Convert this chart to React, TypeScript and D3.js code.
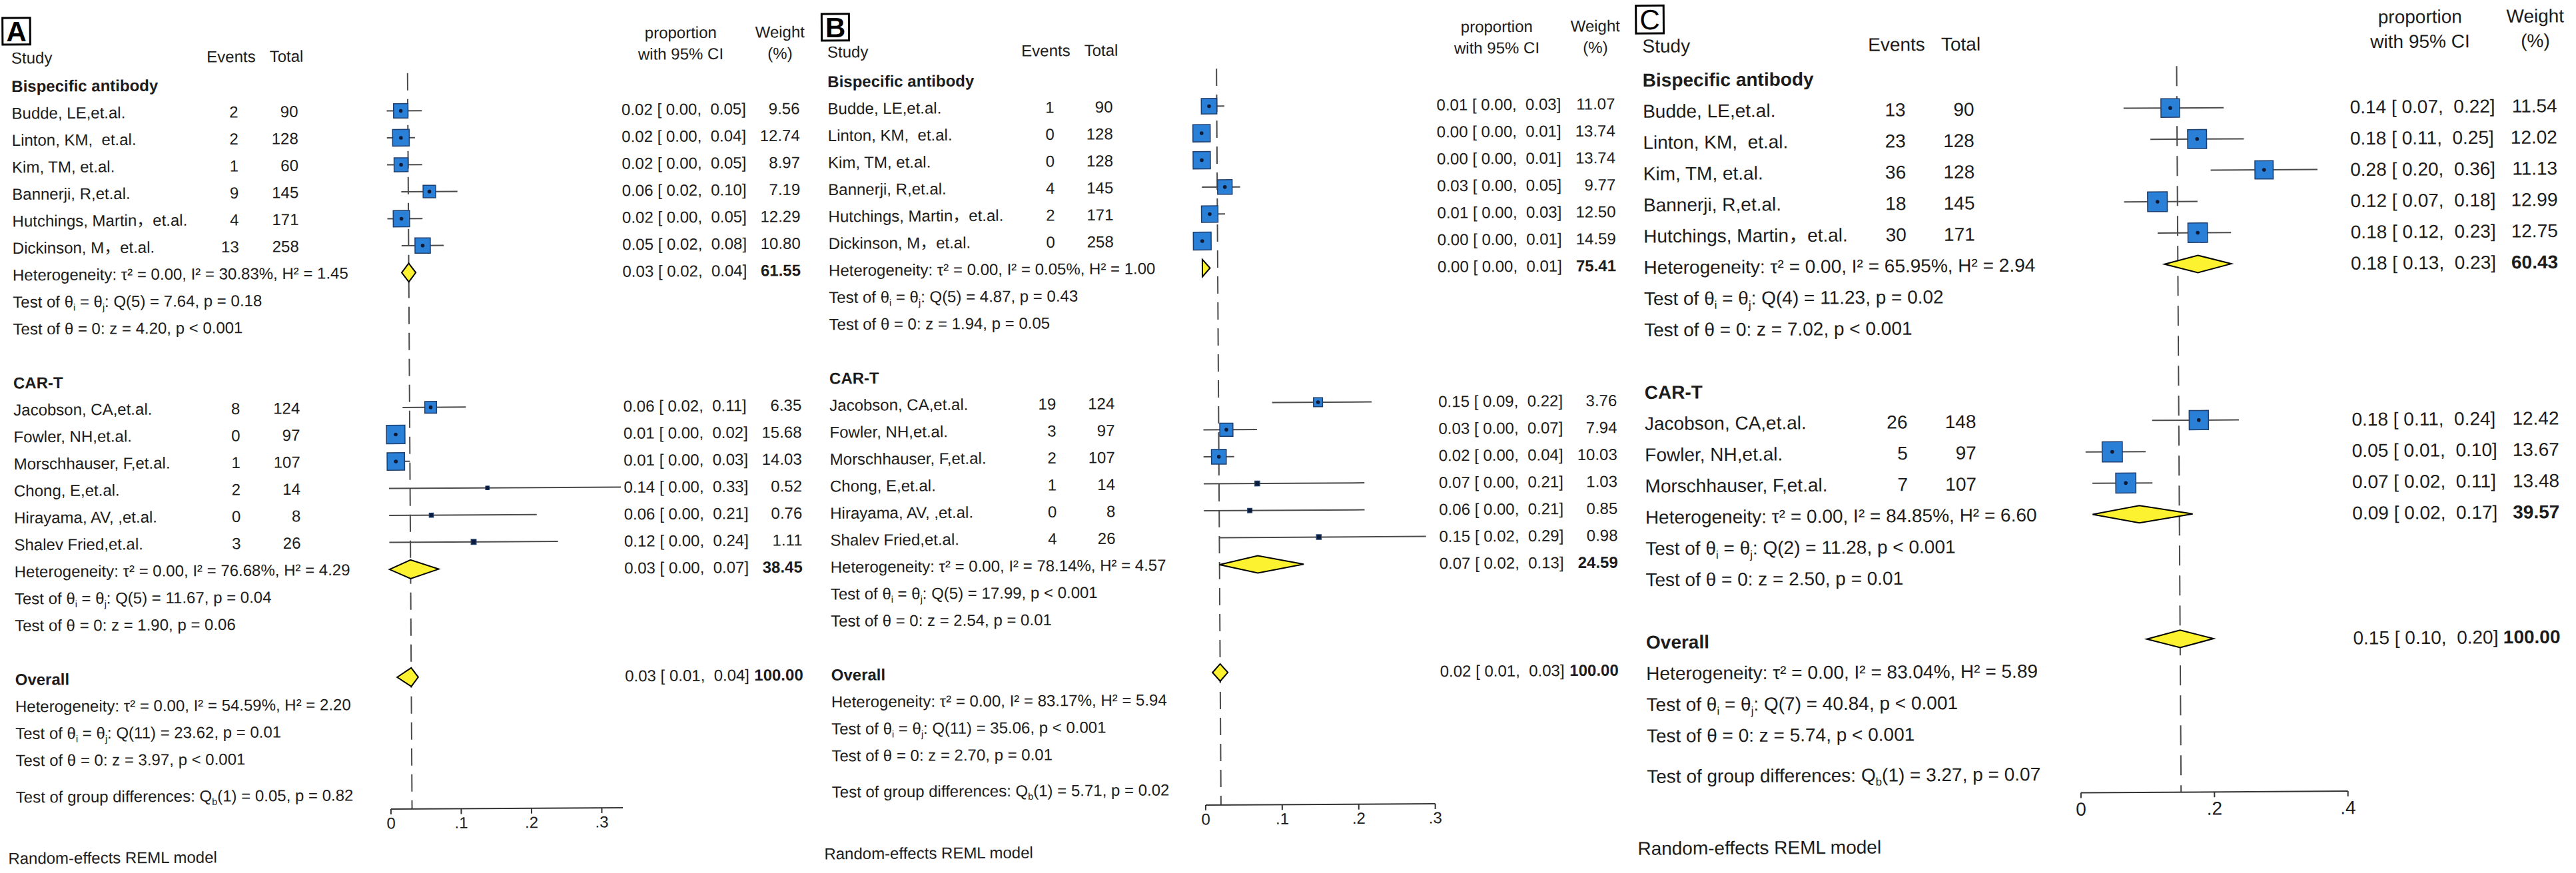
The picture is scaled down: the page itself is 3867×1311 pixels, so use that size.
import React from "react";
import * as d3 from "d3";

const FONT = '"Liberation Sans", Arial, Helvetica, "Noto Sans CJK SC", sans-serif';
const TEXT = "#1c1c1c";
const BLUE = "#2a7fd6";
const BLUE_EDGE = "#1f3f6e";
const DOT = "#0e1a36";
const YELLOW = "#fcf230";
const LINE = "#4a4a4a";
const ROT = -0.35;

// ---------------- Panel A ----------------
const namesA1 = ["Budde, LE,et.al.", "Linton, KM,  et.al.", "Kim, TM, et.al.", "Bannerji, R,et.al.", "Hutchings, Martin，et.al.", "Dickinson, M，et.al."];
const eventsA1 = [2, 2, 1, 9, 4, 13];
const totalsA1 = [90, 128, 60, 145, 171, 258];
const estA1 = [0.02, 0.02, 0.02, 0.06, 0.02, 0.05];
const loA1 = [0.0, 0.0, 0.0, 0.02, 0.0, 0.02];
const hiA1 = [0.05, 0.04, 0.05, 0.1, 0.05, 0.08];
const wA1 = [9.56, 12.74, 8.97, 7.19, 12.29, 10.8];

const namesA2 = ["Jacobson, CA,et.al.", "Fowler, NH,et.al.", "Morschhauser, F,et.al.", "Chong, E,et.al.", "Hirayama, AV, ,et.al.", "Shalev Fried,et.al."];
const eventsA2 = [8, 0, 1, 2, 0, 3];
const totalsA2 = [124, 97, 107, 14, 8, 26];
const estA2 = [0.06, 0.01, 0.01, 0.14, 0.06, 0.12];
const loA2 = [0.02, 0.0, 0.0, 0.0, 0.0, 0.0];
const hiA2 = [0.11, 0.02, 0.03, 0.33, 0.21, 0.24];
const wA2 = [6.35, 15.68, 14.03, 0.52, 0.76, 1.11];

// summaries: [Bispecific antibody, CAR-T, Overall]
const sumEstA = [0.03, 0.03, 0.03];
const sumLoA = [0.02, 0.0, 0.01];
const sumHiA = [0.04, 0.07, 0.04];
const sumWA = [61.55, 38.45, 100.0];
const tau2A = [0.0, 0.0, 0.0];
const i2A = [30.83, 76.68, 54.59];
const h2A = [1.45, 4.29, 2.2];
const qDfA = [5, 5, 11];
const qA = [7.64, 11.67, 23.62];
const qPA = ["p = 0.18", "p = 0.04", "p = 0.01"];
const zA = [4.2, 1.9, 3.97];
const zPA = ["p < 0.001", "p = 0.06", "p < 0.001"];
const qbA = 0.05;
const qbPA = "p = 0.82";
const ticksA = [0, 0.1, 0.2, 0.3];

// ---------------- Panel B ----------------
const namesB1 = namesA1;
const eventsB1 = [1, 0, 0, 4, 2, 0];
const totalsB1 = [90, 128, 128, 145, 171, 258];
const estB1 = [0.01, 0.0, 0.0, 0.03, 0.01, 0.0];
const loB1 = [0.0, 0.0, 0.0, 0.0, 0.0, 0.0];
const hiB1 = [0.03, 0.01, 0.01, 0.05, 0.03, 0.01];
const wB1 = [11.07, 13.74, 13.74, 9.77, 12.5, 14.59];

const namesB2 = namesA2;
const eventsB2 = [19, 3, 2, 1, 0, 4];
const totalsB2 = [124, 97, 107, 14, 8, 26];
const estB2 = [0.15, 0.03, 0.02, 0.07, 0.06, 0.15];
const loB2 = [0.09, 0.0, 0.0, 0.0, 0.0, 0.02];
const hiB2 = [0.22, 0.07, 0.04, 0.21, 0.21, 0.29];
const wB2 = [3.76, 7.94, 10.03, 1.03, 0.85, 0.98];

const sumEstB = [0.0, 0.07, 0.02];
const sumLoB = [0.0, 0.02, 0.01];
const sumHiB = [0.01, 0.13, 0.03];
const sumWB = [75.41, 24.59, 100.0];
const tau2B = [0.0, 0.0, 0.0];
const i2B = [0.05, 78.14, 83.17];
const h2B = [1.0, 4.57, 5.94];
const qDfB = [5, 5, 11];
const qB = [4.87, 17.99, 35.06];
const qPB = ["p = 0.43", "p < 0.001", "p < 0.001"];
const zB = [1.94, 2.54, 2.7];
const zPB = ["p = 0.05", "p = 0.01", "p = 0.01"];
const qbB = 5.71;
const qbPB = "p = 0.02";
const ticksB = [0, 0.1, 0.2, 0.3];

// ---------------- Panel C ----------------
const namesC1 = ["Budde, LE,et.al.", "Linton, KM,  et.al.", "Kim, TM, et.al.", "Bannerji, R,et.al.", "Hutchings, Martin，et.al."];
const eventsC1 = [13, 23, 36, 18, 30];
const totalsC1 = [90, 128, 128, 145, 171];
const estC1 = [0.14, 0.18, 0.28, 0.12, 0.18];
const loC1 = [0.07, 0.11, 0.2, 0.07, 0.12];
const hiC1 = [0.22, 0.25, 0.36, 0.18, 0.23];
const wC1 = [11.54, 12.02, 11.13, 12.99, 12.75];

const namesC2 = ["Jacobson, CA,et.al.", "Fowler, NH,et.al.", "Morschhauser, F,et.al."];
const eventsC2 = [26, 5, 7];
const totalsC2 = [148, 97, 107];
const estC2 = [0.18, 0.05, 0.07];
const loC2 = [0.11, 0.01, 0.02];
const hiC2 = [0.24, 0.1, 0.11];
const wC2 = [12.42, 13.67, 13.48];

const sumEstC = [0.18, 0.09, 0.15];
const sumLoC = [0.13, 0.02, 0.1];
const sumHiC = [0.23, 0.17, 0.2];
const sumWC = [60.43, 39.57, 100.0];
const tau2C = [0.0, 0.0, 0.0];
const i2C = [65.95, 84.85, 83.04];
const h2C = [2.94, 6.6, 5.89];
const qDfC = [4, 2, 7];
const qC = [11.23, 11.28, 40.84];
const qPC = ["p = 0.02", "p < 0.001", "p < 0.001"];
const zC = [7.02, 2.5, 5.74];
const zPC = ["p < 0.001", "p = 0.01", "p < 0.001"];
const qbC = 3.27;
const qbPC = "p = 0.07";
const ticksC = [0, 0.2, 0.4];

const groupTitles = ["Bispecific antibody", "CAR-T"];

type Layout = {
  letter: string; letterBold: boolean; box: number[]; fs: number; studyX: number;
  eventsRight: number; totalsRight: number; eventsHdr: number; totalsHdr: number;
  x0: number; ppu: number; axisMax: number; ticks: number[];
  ciX: number; propHdr: number; weightRight: number; weightHdr: number;
  headerY: number; propLine1: number; y0: number; step: number;
  axisY: number; tickLabelY: number; modelX: number; modelY: number;
  k: number; diamondH: number; groupExtra: number; dash: string;
};

type GroupData = { title: string; names: string[]; events: number[]; totals: number[]; est: number[]; lo: number[]; hi: number[]; w: number[] };
type PanelData = {
  groups: GroupData[]; sumEst: number[]; sumLo: number[]; sumHi: number[]; sumW: number[];
  tau2: number[]; i2: number[]; h2: number[]; qDf: number[]; q: number[]; qP: string[];
  z: number[]; zP: string[]; qb: number; qbP: string;
};

const layoutA: Layout = {
  letter: "A", letterBold: true, box: [4, 27, 41.5, 40], fs: 24, studyX: 17,
  eventsRight: 357, totalsRight: 447, eventsHdr: 347, totalsHdr: 430,
  x0: 580, ppu: 1055, axisMax: 0.33, ticks: ticksA,
  ciX: 932.5, propHdr: 1022, weightRight: 1200, weightHdr: 1171,
  headerY: 87, propLine1: 55, y0: 170, step: 40.5,
  axisY: 1218.5, tickLabelY: 1239.5, modelX: 5, modelY: 1289,
  k: 7.0, diamondH: 14, groupExtra: 0.36, dash: "26 13",
};
const layoutB: Layout = {
  letter: "B", letterBold: true, box: [1233.7, 21, 41, 40], fs: 24, studyX: 1242,
  eventsRight: 1582, totalsRight: 1670, eventsHdr: 1570, totalsHdr: 1653,
  x0: 1803, ppu: 1149, axisMax: 0.3, ticks: ticksB,
  ciX: 2156, propHdr: 2247, weightRight: 2424, weightHdr: 2395,
  headerY: 78, propLine1: 46, y0: 163, step: 40.5,
  axisY: 1212.5, tickLabelY: 1233.5, modelX: 1230, modelY: 1282,
  k: 7.0, diamondH: 13, groupExtra: 0.34, dash: "26 13",
};
const layoutC: Layout = {
  letter: "C", letterBold: false, box: [2456, 8.4, 41.6, 41.8], fs: 28, studyX: 2465.5,
  eventsRight: 2860, totalsRight: 2963, eventsHdr: 2847, totalsHdr: 2943.5,
  x0: 3117, ppu: 1002, axisMax: 0.4, ticks: ticksC,
  ciX: 3527, propHdr: 3633, weightRight: 3838, weightHdr: 3806,
  headerY: 69, propLine1: 32, y0: 167, step: 46.9,
  axisY: 1194.5, tickLabelY: 1219, modelX: 2451, modelY: 1274,
  k: 8.2, diamondH: 13, groupExtra: 0.3, dash: "30 15",
};

const dataA: PanelData = {
  groups: [
    { title: groupTitles[0], names: namesA1, events: eventsA1, totals: totalsA1, est: estA1, lo: loA1, hi: hiA1, w: wA1 },
    { title: groupTitles[1], names: namesA2, events: eventsA2, totals: totalsA2, est: estA2, lo: loA2, hi: hiA2, w: wA2 },
  ],
  sumEst: sumEstA, sumLo: sumLoA, sumHi: sumHiA, sumW: sumWA,
  tau2: tau2A, i2: i2A, h2: h2A, qDf: qDfA, q: qA, qP: qPA, z: zA, zP: zPA, qb: qbA, qbP: qbPA,
};
const dataB: PanelData = {
  groups: [
    { title: groupTitles[0], names: namesB1, events: eventsB1, totals: totalsB1, est: estB1, lo: loB1, hi: hiB1, w: wB1 },
    { title: groupTitles[1], names: namesB2, events: eventsB2, totals: totalsB2, est: estB2, lo: loB2, hi: hiB2, w: wB2 },
  ],
  sumEst: sumEstB, sumLo: sumLoB, sumHi: sumHiB, sumW: sumWB,
  tau2: tau2B, i2: i2B, h2: h2B, qDf: qDfB, q: qB, qP: qPB, z: zB, zP: zPB, qb: qbB, qbP: qbPB,
};
const dataC: PanelData = {
  groups: [
    { title: groupTitles[0], names: namesC1, events: eventsC1, totals: totalsC1, est: estC1, lo: loC1, hi: hiC1, w: wC1 },
    { title: groupTitles[1], names: namesC2, events: eventsC2, totals: totalsC2, est: estC2, lo: loC2, hi: hiC2, w: wC2 },
  ],
  sumEst: sumEstC, sumLo: sumLoC, sumHi: sumHiC, sumW: sumWC,
  tau2: tau2C, i2: i2C, h2: h2C, qDf: qDfC, q: qC, qP: qPC, z: zC, zP: zPC, qb: qbC, qbP: qbPC,
};

const f2 = d3.format(".2f");
const fmtTick = (t: number) => (t === 0 ? "0" : d3.format(".1f")(t).replace(/^0/, ""));
const ciText = (e: number, l: number, h: number) => `${f2(e)} [ ${f2(l)},  ${f2(h)}]`;

function Panel({ L, D }: { L: Layout; D: PanelData }) {
  const fs = L.fs;
  const x = d3.scaleLinear().domain([0, 1]).range([L.x0, L.x0 + L.ppu]);
  const rowY = d3.scaleLinear().domain([0, 1]).range([L.y0, L.y0 + L.step]);
  const side = d3.scaleSqrt().domain([0, 1]).range([0, L.k]);
  const base = (y: number) => y + fs * 0.35;
  const sub = fs * 0.6;
  const dd = fs * 0.22;

  const txt = (key: string, xx: number, y: number, s: React.ReactNode, anchor = "start", bold = false, size = fs) => (
    <text key={key} x={xx} y={y + size * 0.35} fontSize={size} fontWeight={bold ? "bold" : "normal"} textAnchor={anchor} fill={TEXT} style={{ whiteSpace: "pre" }}>
      {s}
    </text>
  );

  const statBlock = (key: string, idx: number, r0: number) => {
    const out: React.ReactNode[] = [];
    out.push(txt(key + "h", L.studyX, rowY(r0), `Heterogeneity: τ² = ${f2(D.tau2[idx])}, I² = ${f2(D.i2[idx])}%, H² = ${f2(D.h2[idx])}`));
    out.push(
      <text key={key + "q"} x={L.studyX} y={base(rowY(r0 + 1))} fontSize={fs} fill={TEXT} style={{ whiteSpace: "pre" }}>
        Test of θ<tspan fontSize={sub} dy={dd}>i</tspan>
        <tspan dy={-dd}> = θ</tspan>
        <tspan fontSize={sub} dy={dd}>j</tspan>
        <tspan dy={-dd}>{`: Q(${D.qDf[idx]}) = ${f2(D.q[idx])}, ${D.qP[idx]}`}</tspan>
      </text>
    );
    out.push(txt(key + "z", L.studyX, rowY(r0 + 2), `Test of θ = 0: z = ${f2(D.z[idx])}, ${D.zP[idx]}`));
    return out;
  };

  const diamond = (key: string, e: number, l: number, h: number, y: number) => {
    const pts = [[x(l), y], [x(e), y - L.diamondH], [x(h), y], [x(e), y + L.diamondH]];
    return <polygon key={key} points={pts.map((p) => p.join(",")).join(" ")} fill={YELLOW} stroke="#000" strokeWidth={2} strokeLinejoin="miter" />;
  };

  const lines: React.ReactNode[] = [];
  const marks: React.ReactNode[] = [];
  const texts: React.ReactNode[] = [];

  let r = 0;
  D.groups.forEach((g, gi) => {
    texts.push(txt(`gt${gi}`, L.studyX, rowY(r - 1), g.title, "start", true));
    g.names.forEach((n, i) => {
      const y = rowY(r + i);
      texts.push(txt(`n${gi}-${i}`, L.studyX, y, n));
      texts.push(txt(`e${gi}-${i}`, L.eventsRight, y, String(g.events[i]), "end"));
      texts.push(txt(`t${gi}-${i}`, L.totalsRight, y, String(g.totals[i]), "end"));
      texts.push(txt(`c${gi}-${i}`, L.ciX, y, ciText(g.est[i], g.lo[i], g.hi[i])));
      texts.push(txt(`w${gi}-${i}`, L.weightRight, y, f2(g.w[i]), "end"));
      lines.push(<line key={`l${gi}-${i}`} x1={x(g.lo[i])} x2={x(g.hi[i])} y1={y} y2={y} stroke={LINE} strokeWidth={2} />);
      const s = side(g.w[i]);
      marks.push(
        <rect key={`s${gi}-${i}`} x={x(g.est[i]) - s / 2} y={y - s / 2} width={s} height={s}
          fill={s < 9 ? DOT : BLUE} stroke={BLUE_EDGE} strokeWidth={1.5} />
      );
      marks.push(<circle key={`d${gi}-${i}`} cx={x(g.est[i])} cy={y} r={2.8} fill={DOT} />);
    });
    const hr = r + g.names.length;
    marks.push(diamond(`dm${gi}`, D.sumEst[gi], D.sumLo[gi], D.sumHi[gi], rowY(hr)));
    texts.push(txt(`sc${gi}`, L.ciX, rowY(hr), ciText(D.sumEst[gi], D.sumLo[gi], D.sumHi[gi])));
    texts.push(txt(`sw${gi}`, L.weightRight, rowY(hr), f2(D.sumW[gi]), "end", true));
    texts.push(...statBlock(`st${gi}`, gi, hr));
    r = hr + 5;
  });
  const ov = r - 1;
  texts.push(txt("ovt", L.studyX, rowY(ov), "Overall", "start", true));
  marks.push(diamond("dmo", D.sumEst[2], D.sumLo[2], D.sumHi[2], rowY(ov)));
  texts.push(txt("ovc", L.ciX, rowY(ov), ciText(D.sumEst[2], D.sumLo[2], D.sumHi[2])));
  texts.push(txt("ovw", L.weightRight, rowY(ov), f2(D.sumW[2]), "end", true));
  texts.push(...statBlock("sto", 2, ov + 1));
  texts.push(
    <text key="qb" x={L.studyX} y={base(rowY(ov + 4 + L.groupExtra))} fontSize={fs} fill={TEXT} style={{ whiteSpace: "pre" }}>
      Test of group differences: Q<tspan fontSize={sub} dy={dd}>b</tspan>
      <tspan dy={-dd}>{`(1) = ${f2(D.qb)}, ${D.qbP}`}</tspan>
    </text>
  );

  const refX = x(D.sumEst[2]);
  const [bx, by, bw, bh] = L.box;

  return (
    <g transform={`rotate(${ROT} ${L.studyX} ${L.headerY})`} fontFamily={FONT}>
      <rect x={bx} y={by} width={bw} height={bh} fill="none" stroke="#000" strokeWidth={3} />
      <text x={bx + bw / 2} y={by + bh / 2 + 15} fontSize={42} fontWeight={L.letterBold ? "bold" : "normal"} textAnchor="middle" fill="#000">
        {L.letter}
      </text>
      {txt("hs", L.studyX, L.headerY, "Study")}
      {txt("he", L.eventsHdr, L.headerY, "Events", "middle")}
      {txt("ht", L.totalsHdr, L.headerY, "Total", "middle")}
      {txt("hp1", L.propHdr, L.propLine1, "proportion", "middle")}
      {txt("hp2", L.propHdr, L.headerY, "with 95% CI", "middle")}
      {txt("hw1", L.weightHdr, L.propLine1, "Weight", "middle")}
      {txt("hw2", L.weightHdr, L.headerY, "(%)", "middle")}
      <line x1={refX} x2={refX} y1={rowY(-1) - 16} y2={L.axisY} stroke={LINE} strokeWidth={2} strokeDasharray={L.dash} />
      {lines}
      {marks}
      {texts}
      <line x1={x(0)} x2={x(L.axisMax)} y1={L.axisY} y2={L.axisY} stroke="#333" strokeWidth={2} />
      {L.ticks.map((t) => (
        <g key={`tk${t}`}>
          <line x1={x(t)} x2={x(t)} y1={L.axisY} y2={L.axisY + 8} stroke="#333" strokeWidth={2} />
          <text x={x(t)} y={base(L.tickLabelY)} fontSize={fs} textAnchor="middle" fill={TEXT}>
            {fmtTick(t)}
          </text>
        </g>
      ))}
      {txt("model", L.modelX, L.modelY, "Random-effects REML model")}
    </g>
  );
}

export default function App() {
  return (
    <div style={{ position: "absolute", left: 0, top: 0, background: "#fff" }}>
      <svg width={3867} height={1311} viewBox="0 0 3867 1311" xmlns="http://www.w3.org/2000/svg">
        <rect x={0} y={0} width={3867} height={1311} fill="#fff" />
        <Panel L={layoutA} D={dataA} />
        <Panel L={layoutB} D={dataB} />
        <Panel L={layoutC} D={dataC} />
      </svg>
    </div>
  );
}
